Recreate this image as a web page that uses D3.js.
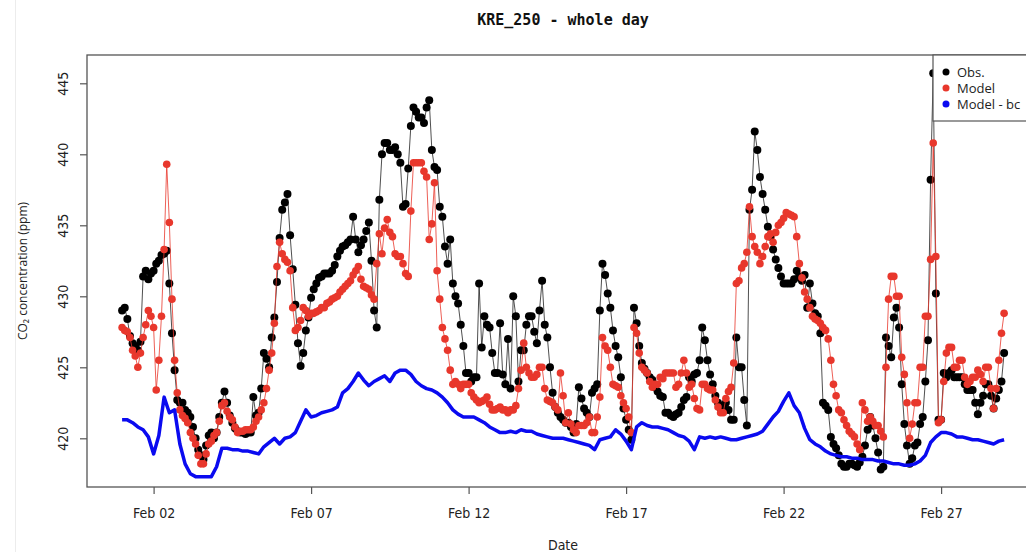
<!DOCTYPE html>
<html>
<head>
<meta charset="utf-8">
<script src="https://cdn.jsdelivr.net/npm/d3@7"></script>
<style>
  html, body { margin: 0; padding: 0; background: #fff; }
  svg { display: block; }
  .tick text { font-family: "Liberation Sans Narrow", "DejaVu Sans Condensed", "Liberation Sans", sans-serif; }
</style>
</head>
<body>
<svg id="chart" width="1026" height="552"></svg>
<script>
// ---------------- DATA ----------------
const title = "KRE_250 - whole day";
const yLabel = "CO₂ concentration (ppm)";
const xLabel = "Date";
const seriesNames = ["Obs.", "Model", "Model - bc"];
const startDate = new Date(2024, 1, 1, 0, 0);   // Feb 01 00:00
const pointStepHours = 2;                         // Obs. / Model: one value every 2 hours
const bcStepHours = 4;                            // Model - bc: one value every 4 hours
const xTickDates = ["2024-02-02", "2024-02-07", "2024-02-12", "2024-02-17", "2024-02-22", "2024-02-27"];
const yTicks = [420, 425, 430, 435, 440, 445];

const obs = [
  429.0, 429.2, 428.4, 427.2, 426.7, 426.5, 426.2, 426.8, 431.4, 431.8, 431.2, 431.6,
  431.8, 432.3, 432.5, 432.9, 433.0, 433.2, 430.9, 427.4, 424.8, 422.7, 422.5, 422.5,
  422.0, 421.8, 421.5, 420.8, 420.0, 419.2, 418.8, 418.5, 419.5, 420.2, 420.4, 420.0,
  420.4, 421.5, 422.5, 423.3, 422.5, 421.6, 421.1, 420.7, 420.5, 420.4, 420.4, 420.3,
  420.4, 420.4, 422.9, 421.6, 421.8, 423.5, 426.0, 425.6, 425.0, 427.1, 428.5, 431.0,
  434.1, 436.1, 436.6, 437.2, 434.3, 431.9, 429.4, 426.7, 425.1, 426.0, 427.6, 428.5,
  429.9, 430.5, 430.9, 431.3, 431.4, 431.6, 431.6, 431.6, 431.8, 432.2, 432.8, 433.2,
  433.5, 433.6, 433.8, 434.0, 435.6, 434.0, 433.1, 433.6, 434.0, 434.6, 435.2, 432.5,
  429.0, 427.8, 436.8, 440.0, 440.8, 440.8, 440.3, 440.3, 440.5, 440.0, 439.4, 436.3,
  436.5, 439.0, 442.0, 443.3, 443.0, 442.6, 442.6, 442.2, 443.3, 443.8, 440.3, 439.1,
  438.9, 436.3, 435.6, 433.5, 432.3, 434.0, 430.9, 430.0, 429.5, 428.0, 426.5, 424.6,
  424.6, 424.0, 424.3, 424.3, 430.9, 426.4, 428.6, 428.0, 427.8, 426.0, 424.6, 424.6,
  428.1, 424.5, 423.8, 427.0, 423.5, 430.0, 428.6, 424.0, 426.2, 426.2, 428.0, 428.6,
  428.6, 427.5, 426.7, 429.0, 431.1, 428.0, 427.1, 425.0, 423.2, 422.2, 421.8, 421.5,
  421.3, 421.1, 421.1, 420.8, 420.4, 421.0, 423.6, 422.8, 422.1, 421.8, 421.5, 423.2,
  423.5, 423.8, 429.0, 432.3, 431.5, 430.2, 429.2, 427.6, 426.5, 425.7, 424.3, 422.1,
  421.3, 420.6, 419.9, 429.2, 428.1, 426.5, 425.3, 424.9, 424.6, 424.3, 424.1, 423.6,
  423.3, 423.0, 422.9, 421.8, 421.8, 421.6, 421.5, 421.7, 421.8, 422.2, 422.7, 422.9,
  424.3, 424.0, 424.5, 424.6, 425.5, 427.8, 426.9, 425.5, 424.5, 423.8, 423.0, 422.5,
  422.1, 422.3, 422.5, 422.0, 421.3, 421.3, 427.1, 425.0, 425.0, 422.7, 420.9, 436.1,
  437.5, 441.6, 440.3, 438.4, 437.2, 436.1, 434.9, 434.2, 433.3, 432.6, 432.0, 431.4,
  430.9, 430.9, 430.9, 430.9, 431.2, 431.8, 431.4, 431.1, 431.5, 429.2, 430.9, 429.5,
  428.8, 428.6, 427.4, 422.5, 422.3, 422.0, 420.1, 419.6, 419.3, 418.8, 418.2, 418.0,
  418.0, 418.2, 418.2, 418.1, 418.0, 418.3, 418.7, 419.5, 420.6, 421.5, 420.9, 420.0,
  419.0, 417.8, 418.0, 427.1, 426.5, 425.7, 428.5, 429.2, 427.8, 423.8, 421.0, 419.5,
  418.2, 418.6, 419.5, 419.7, 421.0, 421.5, 424.0, 426.9, 438.2, 445.7, 430.2, 421.3,
  421.3, 424.6, 424.3, 424.6, 424.8, 424.3, 424.3, 424.3, 424.3, 423.8, 423.4, 423.4,
  423.4, 422.5, 421.7, 422.5, 423.0, 423.8, 423.8, 423.0, 422.1, 422.8, 423.4, 424.0, 426.0
];

const model = [
  427.8, 427.6, 427.5, 427.1, 426.2, 425.8, 425.0, 426.0, 427.1, 428.0, 429.0, 428.6,
  427.8, 423.4, 425.5, 428.6, 433.3, 439.3, 435.2, 429.8, 425.5, 423.2, 422.0, 421.6,
  421.4, 421.1, 420.4, 420.0, 419.6, 418.8, 418.2, 418.2, 418.9, 419.6, 419.8, 420.2,
  420.4, 421.2, 422.3, 422.5, 421.9, 421.5, 421.3, 420.8, 420.4, 420.5, 420.5, 420.6,
  420.6, 420.6, 420.8, 421.2, 421.5, 422.0, 422.5, 423.5, 424.8, 426.0, 428.1, 432.1,
  433.8, 433.0, 432.6, 432.4, 431.8, 429.2, 427.6, 427.8, 428.3, 429.2, 429.0, 428.6,
  428.8, 428.8, 428.9, 429.0, 429.2, 429.2, 429.5, 429.6, 429.8, 429.9, 430.0, 430.3,
  430.5, 430.7, 430.9, 431.1, 431.5, 431.8, 432.1, 431.2, 430.7, 430.6, 430.5, 430.1,
  429.8, 432.3, 434.4, 433.0, 434.8, 435.4, 434.5, 434.2, 433.0, 432.8, 432.8, 432.3,
  431.6, 431.4, 436.0, 439.4, 439.4, 439.4, 439.4, 438.8, 438.4, 434.0, 435.1, 438.0,
  431.8, 429.8, 427.8, 427.0, 426.2, 424.8, 423.8, 424.0, 423.8, 423.5, 423.8, 423.8,
  423.8, 423.2, 422.9, 422.7, 422.5, 422.6, 422.7, 422.9, 422.4, 422.0, 422.0, 422.1,
  422.2, 422.0, 422.0, 421.8, 422.0, 422.0, 422.3, 423.5, 424.8, 426.7, 425.0, 424.6,
  424.3, 424.3, 424.5, 425.0, 425.0, 423.5, 422.7, 422.6, 422.5, 422.2, 422.0, 424.6,
  423.0, 421.1, 421.8, 421.0, 420.6, 420.4, 420.9, 420.9, 420.9, 421.1, 421.5, 420.4,
  420.4, 421.5, 422.9, 427.1, 426.5, 426.2, 425.0, 423.8, 423.7, 423.6, 423.0, 422.5,
  422.1, 421.5, 420.4, 427.8, 427.4, 426.0, 425.0, 424.8, 424.6, 424.0, 423.6, 423.8,
  423.8, 424.3, 424.2, 424.6, 424.6, 424.6, 424.6, 423.6, 423.8, 424.6, 425.5, 424.6,
  423.6, 423.8, 422.8, 422.1, 422.0, 423.8, 423.8, 423.5, 423.4, 423.4, 422.7, 422.2,
  421.8, 421.8, 422.8, 423.3, 423.6, 425.3, 430.9, 431.1, 432.0, 432.3, 433.1, 436.3,
  434.2, 433.5, 433.1, 432.3, 432.8, 433.5, 434.2, 434.4, 433.8, 434.5, 435.0, 435.2,
  435.5, 435.9, 435.8, 435.7, 435.6, 434.2, 432.3, 431.3, 430.3, 429.8, 429.2, 428.6,
  428.4, 428.3, 428.1, 427.8, 427.6, 427.0, 425.5, 423.8, 423.0, 422.0, 421.8, 421.3,
  420.9, 420.5, 420.3, 420.1, 419.6, 419.2, 422.5, 422.0, 421.2, 421.5, 421.2, 420.9,
  420.9, 420.5, 420.1, 425.0, 429.8, 431.4, 431.4, 430.0, 430.0, 425.7, 424.5, 422.5,
  420.0, 421.0, 422.5, 422.5, 425.0, 425.0, 428.6, 428.6, 432.6, 440.8, 432.8, 421.1,
  421.3, 424.0, 426.0, 426.4, 426.4, 425.0, 425.0, 425.5, 425.5, 424.3, 423.8, 424.0,
  424.3, 424.3, 424.8, 424.5, 424.0, 425.0, 425.0, 423.5, 422.1, 423.5, 425.5, 427.4, 428.8
];

const modelBc = [
  421.3, 421.3, 421.1, 420.8, 420.6, 420.1,
  418.9, 420.2, 422.9, 421.8, 422.0, 419.6,
  418.2, 417.5, 417.3, 417.3, 417.3, 417.3,
  418.0, 419.3, 419.3, 419.2, 419.2, 419.1,
  419.1, 419.0, 418.9, 419.4, 419.7, 420.0,
  419.6, 420.0, 420.1, 420.4, 421.2, 422.0,
  421.5, 421.6, 421.8, 421.9, 422.0, 422.2,
  423.2, 423.5, 424.0, 424.6, 424.1, 423.7,
  424.0, 424.2, 424.4, 424.0, 424.6, 424.8,
  424.8, 424.5, 424.0, 423.7, 423.5, 423.4,
  423.2, 422.9, 422.5, 422.0, 421.7, 421.5,
  421.5, 421.5, 421.3, 421.1, 420.8, 420.6,
  420.4, 420.4, 420.5, 420.4, 420.6, 420.5,
  420.5, 420.3, 420.2, 420.1, 420.0, 420.0,
  420.0, 419.9, 419.8, 419.7, 419.6, 419.5,
  419.2, 419.9, 420.0, 420.1, 420.6, 420.3,
  419.8, 419.2, 420.8, 421.1, 420.9, 420.8,
  420.8, 420.7, 420.6, 420.4, 420.2, 420.1,
  419.8, 419.2, 420.1, 420.0, 420.1, 420.0,
  420.1, 420.0, 419.9, 419.9, 420.0, 420.1,
  420.2, 420.3, 420.5, 421.0, 421.5, 421.9,
  422.6, 423.2, 422.3, 421.8, 420.7, 419.9,
  419.6, 419.4, 419.1, 418.9, 418.8, 418.7,
  418.7, 418.6, 418.6, 418.5, 418.5, 418.5,
  418.4, 418.4, 418.3, 418.2, 418.2, 418.1,
  418.1, 418.2, 418.4, 418.8, 419.7, 420.1,
  420.4, 420.4, 420.3, 420.1, 420.1, 420.0,
  419.9, 419.9, 419.8, 419.7, 419.6, 419.8, 419.9
];

const colors = ["#000000", "#e8372c", "#0a0af0"];

// ---------------- CHART ----------------
const svg = d3.select("#chart");
svg.append("rect").attr("width", 1026).attr("height", 552).attr("fill", "#fff");
svg.append("line").attr("x1", 15.5).attr("x2", 15.5).attr("y1", 0).attr("y2", 552)
  .attr("stroke", "#ececec").attr("stroke-width", 1);

const box = { left: 87, top: 55, right: 1039, bottom: 487 };
const endDate = d3.timeHour.offset(startDate, pointStepHours * (obs.length - 1));
const x = d3.scaleTime().domain([startDate, endDate]).range([122.1, 1004.1]);
const y = d3.scaleLinear().domain([420, 445]).range([438.3, 83.3]);

const toPts = (arr, step) => arr.map((v, i) => ({ t: d3.timeHour.offset(startDate, step * i), v }));
const obsPts = toPts(obs, pointStepHours), modelPts = toPts(model, pointStepHours), bcPts = toPts(modelBc, bcStepHours);

svg.append("clipPath").attr("id", "clip").append("rect")
  .attr("x", box.left).attr("y", box.top).attr("width", box.right - box.left).attr("height", box.bottom - box.top);
const plot = svg.append("g").attr("clip-path", "url(#clip)");

const line = d3.line().x(d => x(d.t)).y(d => y(d.v));

// Obs
plot.append("path").datum(obsPts).attr("d", line).attr("fill", "none")
  .attr("stroke", "#222").attr("stroke-width", 0.8);
plot.append("g").selectAll("circle").data(obsPts).join("circle")
  .attr("cx", d => x(d.t)).attr("cy", d => y(d.v)).attr("r", 4).attr("fill", colors[0]);

// Model
plot.append("path").datum(modelPts).attr("d", line).attr("fill", "none")
  .attr("stroke", colors[1]).attr("stroke-width", 0.8);
plot.append("g").selectAll("circle").data(modelPts).join("circle")
  .attr("cx", d => x(d.t)).attr("cy", d => y(d.v)).attr("r", 3.8).attr("fill", colors[1]);

// Model - bc
plot.append("path").datum(bcPts).attr("d", line).attr("fill", "none")
  .attr("stroke", colors[2]).attr("stroke-width", 3.5).attr("stroke-linejoin", "round");

// Box
svg.append("rect").attr("x", box.left).attr("y", box.top)
  .attr("width", box.right - box.left).attr("height", box.bottom - box.top)
  .attr("fill", "none").attr("stroke", "#555").attr("stroke-width", 1.3);

// X axis
const xAxis = d3.axisBottom(x)
  .tickValues(xTickDates.map(s => d3.timeParse("%Y-%m-%d")(s)))
  .tickFormat(d3.timeFormat("%b %d")).tickSize(7).tickPadding(14);
const gx = svg.append("g").attr("transform", `translate(0,${box.bottom})`).call(xAxis);
gx.select(".domain").remove();
gx.selectAll(".tick line").attr("stroke", "#555").attr("stroke-width", 1.2);
gx.selectAll(".tick text").attr("font-size", 14).attr("fill", "#222");

// Y axis
const yAxis = d3.axisLeft(y).tickValues(yTicks).tickSize(7).tickPadding(0).tickFormat(d3.format("d"));
const gy = svg.append("g").attr("transform", `translate(${box.left},0)`).call(yAxis);
gy.select(".domain").remove();
gy.selectAll(".tick line").attr("stroke", "#555").attr("stroke-width", 1.2);
gy.selectAll(".tick text").attr("font-size", 14).attr("fill", "#222")
  .attr("text-anchor", "middle").attr("x", 0).attr("dy", 0)
  .attr("transform", "translate(-19,0) rotate(-90)").attr("y", 0);

// Title
svg.append("text").attr("x", 563).attr("y", 25).attr("text-anchor", "middle")
  .attr("font-family", "DejaVu Sans Mono, monospace").attr("font-weight", "bold")
  .attr("font-size", 15).attr("fill", "#111").text(title);

// Axis labels
svg.append("text").attr("x", 563).attr("y", 550).attr("text-anchor", "middle")
  .attr("font-family", "Liberation Sans Narrow, DejaVu Sans Condensed, sans-serif")
  .attr("font-size", 14).attr("fill", "#222").text(xLabel);
svg.append("text").attr("transform", "translate(27,271) rotate(-90)").attr("text-anchor", "middle")
  .attr("font-family", "Open Sans, sans-serif").attr("font-size", 12).attr("fill", "#222")
  .text(yLabel);

// Legend
const lg = svg.append("g");
lg.append("rect").attr("x", 933).attr("y", box.top).attr("width", 120).attr("height", 66)
  .attr("fill", "#fff").attr("stroke", "#555").attr("stroke-width", 1.2);
seriesNames.forEach((name, i) => {
  const ly = 72 + i * 16;
  lg.append("circle").attr("cx", 946).attr("cy", ly).attr("r", 3.5).attr("fill", colors[i]);
  lg.append("text").attr("x", 957).attr("y", ly + 5).attr("font-family", "Open Sans, sans-serif")
    .attr("font-size", 13).attr("fill", "#222").text(name);
});
</script>
</body>
</html>
